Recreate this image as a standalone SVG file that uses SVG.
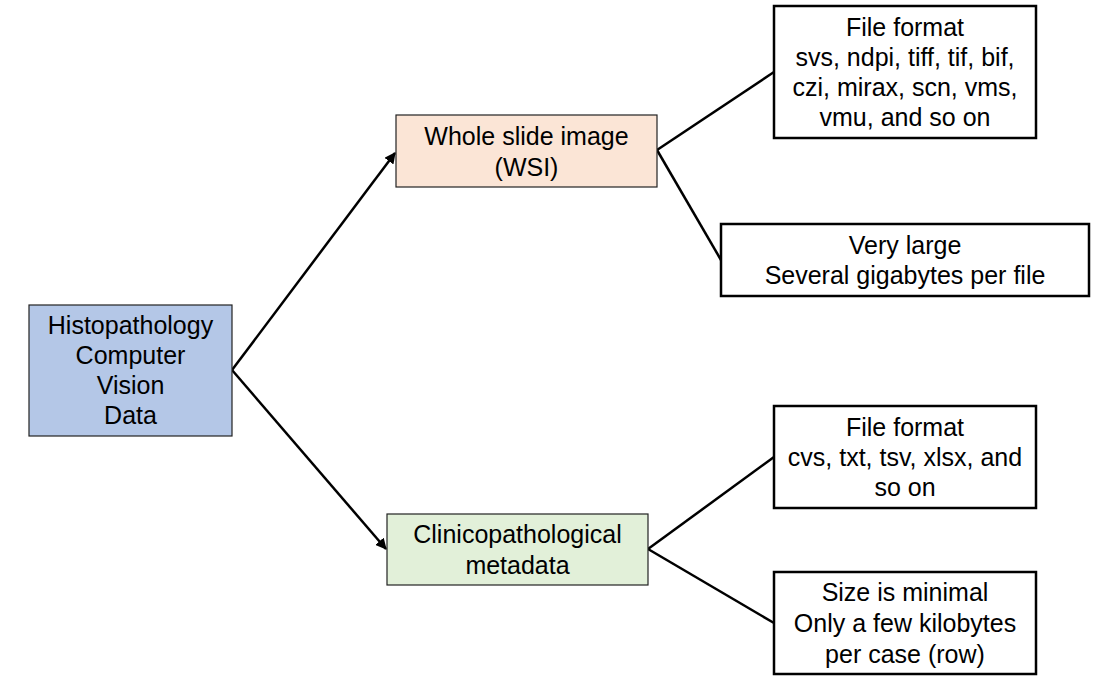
<svg xmlns="http://www.w3.org/2000/svg" width="1100" height="684" viewBox="0 0 1100 684">
<style>
text{font-family:"Liberation Sans",Arial,sans-serif;font-size:25px;fill:#000;text-anchor:middle}
.c{stroke:#222;stroke-width:1.2}
.w{fill:#fff;stroke:#000;stroke-width:2.5}
.e{stroke:#000;stroke-width:2.5;fill:none}
</style>
<defs>
<marker id="ah" viewBox="0 0 10 10" refX="9" refY="5" markerWidth="4.5" markerHeight="4.5" orient="auto" markerUnits="strokeWidth">
<path d="M0,0 L10,5 L0,10 z" fill="#000"/>
</marker>
</defs>
<rect width="1100" height="684" fill="#fff"/>
<g id="connectors">
<line class="e" x1="232" y1="370" x2="395" y2="153" marker-end="url(#ah)"/>
<line class="e" x1="232" y1="370" x2="386" y2="549" marker-end="url(#ah)"/>
<line class="e" x1="657" y1="150" x2="774" y2="72"/>
<line class="e" x1="657" y1="150" x2="721" y2="260"/>
<line class="e" x1="648" y1="549" x2="774" y2="457"/>
<line class="e" x1="648" y1="549" x2="774" y2="623"/>
</g>
<g id="hcv">
<rect class="c" x="29" y="305" width="203" height="131" fill="#b4c7e7"/>
<text x="130.5" y="334">Histopathology</text>
<text x="130.5" y="364">Computer</text>
<text x="130.5" y="394">Vision</text>
<text x="130.5" y="424">Data</text>
</g>
<g id="wsi">
<rect class="c" x="396" y="115" width="261" height="72" fill="#fbe5d6"/>
<text x="526.5" y="145">Whole slide image</text>
<text x="526.5" y="176">(WSI)</text>
</g>
<g id="meta">
<rect class="c" x="387" y="514" width="261" height="71" fill="#e2f0d9"/>
<text x="517.5" y="543">Clinicopathological</text>
<text x="517.5" y="574">metadata</text>
</g>
<g id="wsiformat">
<rect class="w" x="774" y="6" width="262" height="132"/>
<text x="905" y="36">File format</text>
<text x="905" y="66">svs, ndpi, tiff, tif, bif,</text>
<text x="905" y="96">czi, mirax, scn, vms,</text>
<text x="905" y="126">vmu, and so on</text>
</g>
<g id="wsisize">
<rect class="w" x="721" y="224" width="368" height="72"/>
<text x="905" y="254">Very large</text>
<text x="905" y="284">Several gigabytes per file</text>
</g>
<g id="metaformat">
<rect class="w" x="774" y="406" width="262" height="102"/>
<text x="905" y="436">File format</text>
<text x="905" y="466">cvs, txt, tsv, xlsx, and</text>
<text x="905" y="496">so on</text>
</g>
<g id="metasize">
<rect class="w" x="774" y="572" width="262" height="102"/>
<text x="905" y="601">Size is minimal</text>
<text x="905" y="632">Only a few kilobytes</text>
<text x="905" y="663">per case (row)</text>
</g>
</svg>
